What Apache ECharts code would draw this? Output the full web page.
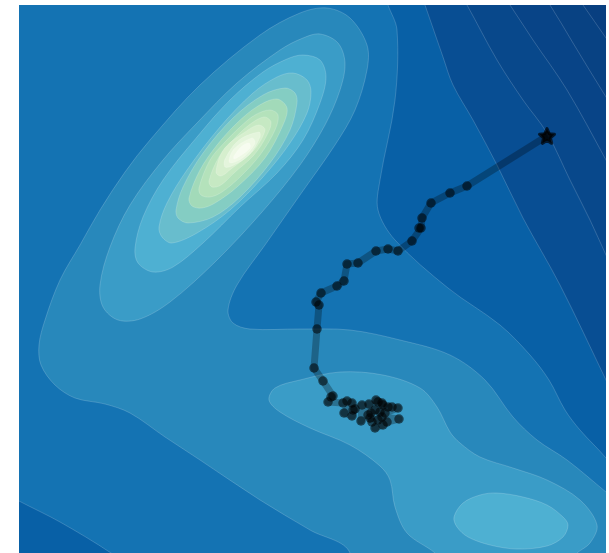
<!DOCTYPE html>
<html>
<head>
<meta charset="utf-8">
<script src="https://cdn.jsdelivr.net/npm/echarts@6/dist/echarts.min.js"></script>
<style>html,body{margin:0;padding:0;background:#fff}#c{width:609px;height:553px}</style>
</head>
<body>
<div id="c"></div>
<script>
// Contour outlines, lowest level first (x and y in plot units, y upward)
const level1 = [[551,568],[564,548],[587,515],[621,463],[700,-100],[-100,-100],[-100,700],[500,700]];
const level2 = [[516,568],[531,548],[554,510],[587,456],[621,403],[700,-100],[-100,-100],[-100,700],[480,700]];
const level3 = [[478,568],[491,548],[514,513],[548,463],[587,393],[611,348],[700,-100],[-100,-100],[-100,700],[440,700]];
const level4 = [[436,568],[448,548],[478,493],[504,453],[528,420],[551,373],[571,333],[587,298],[606,258],[700,-100],[-100,-100],[-100,700],[400,700]];
const level5 = [[399,568],[406,548],[424,496],[434,468],[454,433],[478,388],[504,335],[541,268],[587,173],[606,133],[700,-100],[-100,-100],[-100,700],[370,700]];
const level6 = [[369,548],[378,523],[376,453],[361,373],[359,343],[376,313],[429,265],[481,228],[511,198],[530,173],[546,143],[561,123],[587,95],[611,63],[700,-100],[200,-100],[125,-25],[92,0],[41,31],[0,52],[-39,73],[-100,110],[-100,700],[340,700],[362,570]];
const level7 = [[308,545],[331,535],[348,508],[348,483],[336,443],[316,408],[281,358],[246,308],[218,268],[209,243],[214,230],[231,224],[281,224],[331,223],[381,213],[431,198],[466,173],[494,136],[518,113],[548,93],[587,61],[621,33],[700,-100],[341,-100],[331,0],[291,23],[241,53],[181,93],[146,116],[111,140],[86,149],[56,155],[36,168],[22,188],[20,208],[26,233],[41,273],[61,308],[81,343],[106,381],[131,413],[181,468],[241,518],[281,540]];
const level8a = [[301,519],[319,510],[326,490],[321,463],[306,428],[281,388],[243,341],[196,291],[151,251],[121,234],[99,233],[84,246],[81,268],[91,306],[111,348],[144,393],[178,430],[218,470],[261,503],[284,515]];
const level8b = [[281,173],[321,181],[364,178],[401,165],[418,146],[431,121],[441,110],[461,96],[494,85],[528,73],[561,53],[578,28],[571,10],[558,0],[541,-17],[431,-17],[416,0],[388,20],[376,46],[371,73],[361,87],[331,108],[291,125],[261,141],[250,153],[256,165]];
const level9a = [[284,498],[301,493],[307,476],[301,450],[284,413],[258,380],[221,346],[184,310],[154,286],[134,281],[119,290],[116,305],[124,336],[144,373],[178,416],[211,453],[244,481],[268,494]];
const level9b = [[435,36],[444,50],[461,58],[478,60],[504,56],[528,48],[544,36],[549,28],[544,16],[528,7],[498,4],[471,8],[449,16],[438,26]];
const level10 = [[274,480],[288,473],[292,461],[288,440],[271,410],[244,376],[211,343],[178,320],[153,310],[143,316],[140,326],[148,350],[168,383],[201,426],[234,460],[258,476]];
const level11 = [[266,465],[276,460],[278,450],[271,423],[251,390],[221,356],[194,336],[169,330],[159,335],[157,343],[164,366],[184,400],[214,435],[244,458]];
const level12 = [[258,454],[268,445],[264,428],[246,395],[218,366],[196,350],[183,345],[173,347],[170,355],[181,383],[198,408],[218,430],[239,447]];
const level13 = [[251,443],[259,438],[256,423],[241,398],[221,376],[203,361],[191,356],[182,358],[180,365],[191,393],[206,411],[221,426],[236,438]];
const level14 = [[245,436],[252,431],[248,418],[235,398],[215,380],[202,368],[193,366],[190,372],[200,396],[214,413],[230,428]];
const level15 = [[240,428],[246,423],[235,403],[212,384],[202,377],[197,381],[205,404],[229,423]];
const level16 = [[240,421],[241,416],[230,398],[213,387],[206,386],[206,394],[220,413]];
const level17 = [[233,415],[236,410],[226,397],[216,391],[210,391],[215,404]];
const level18 = [[230,410],[231,405],[221,397],[215,394],[215,397],[223,407]];

const contourRegions = [level1,level2,level3,level4,level5,level6,level7,level8a,level8b,level9a,level9b,level10,level11,level12,level13,level14,level15,level16,level17,level18];
const contourColors = ['#084283','#084487','#08488b','#084e93','#0860a6','#1473b3','#2888bb','#3a9cc7','#3a9cc7','#4eb0d2','#4eb0d2','#68bdcd','#84cdc3','#a2dab9','#b4e2bb','#c6e9c3','#d6efce','#e4f5dc','#eff9e6','#f7fcf0'];
const lowestColor = '#083f80';

// Optimiser trajectory
const trajectory = [[528,417],[448,367],[431,360],[412,350],[403,335],[402,325],[400,325],[393,312],[379,302],[369,304],[357,302],[339,290],[328,289],[325,272],[318,267],[302,260],[297,251],[300,248],[298,224],[295,185],[304,172],[314,157],[312,156],[309,151],[324,150],[328,152],[333,150],[325,140],[333,137],[336,144],[334,143],[343,148],[342,132],[350,149],[352,140],[349,138],[357,153],[359,151],[363,150],[364,148],[356,143],[361,141],[369,146],[373,146],[379,145],[366,140],[363,136],[380,134],[368,131],[364,128],[356,125],[359,133],[351,135],[353,131]];
const startPoint = [[528,417]];

// Closed chord-weighted spline outline through screen points, as an SVG path
function outlinePath(p) {
  const n = p.length;
  const dist = (u, v) => Math.hypot(u[0] - v[0], u[1] - v[1]) || 1;
  const tangent = (i) => {
    const a = p[(i - 1 + n) % n], b = p[i], c = p[(i + 1) % n];
    const s = dist(a, b) + dist(b, c);
    return [(c[0] - a[0]) / s, (c[1] - a[1]) / s];
  };
  let d = 'M' + p[0][0] + ' ' + p[0][1];
  for (let i = 0; i < n; i++) {
    const b = p[i], c = p[(i + 1) % n];
    const t0 = tangent(i), t1 = tangent((i + 1) % n), h = dist(b, c) / 3;
    d += 'C' + (b[0] + t0[0] * h) + ' ' + (b[1] + t0[1] * h) + ' '
      + (c[0] - t1[0] * h) + ' ' + (c[1] - t1[1] * h) + ' ' + c[0] + ' ' + c[1];
  }
  return d + 'Z';
}

const contourSeries = contourRegions.map((pts, i) => ({
  type: 'custom',
  coordinateSystem: 'cartesian2d',
  clip: true,
  silent: true,
  z: 1,
  encode: {x: 0, y: 1},
  data: pts,
  renderItem: (params, api) => {
    if (params.dataIndex !== 0) return null;
    return {
      type: 'path',
      shape: {pathData: outlinePath(pts.map(p => api.coord(p)))},
      style: {fill: contourColors[i], stroke: 'rgba(255,255,255,0.35)', lineWidth: 0.5}
    };
  }
}));

const chart = echarts.init(document.getElementById('c'), null, {renderer: 'canvas'});
chart.setOption({
  animation: false,
  backgroundColor: '#ffffff',
  grid: {left: 19, top: 5, width: 587, height: 548, show: true, backgroundColor: lowestColor, borderWidth: 0},
  xAxis: {type: 'value', min: 0, max: 587, show: false},
  yAxis: {type: 'value', min: 0, max: 548, show: false},
  series: contourSeries.concat([
    {
      type: 'line',
      data: trajectory,
      z: 5,
      silent: true,
      symbol: 'circle',
      symbolSize: 9.5,
      lineStyle: {color: 'rgba(0,0,0,0.27)', width: 7, join: 'round'},
      itemStyle: {color: 'rgba(0,0,0,0.55)', borderWidth: 0}
    },
    {
      type: 'scatter',
      data: startPoint,
      z: 6,
      silent: true,
      symbol: 'path://M50 2 L64 34 L98 38 L72 61 L80 96 L50 78 L20 96 L28 61 L2 38 L36 34 Z',
      symbolSize: 15,
      symbolKeepAspect: true,
      itemStyle: {color: 'rgba(0,0,0,0.85)', borderColor: 'rgba(0,0,0,0.85)', borderWidth: 3, borderJoin: 'round'}
    }
  ])
});
</script>
</body>
</html>
